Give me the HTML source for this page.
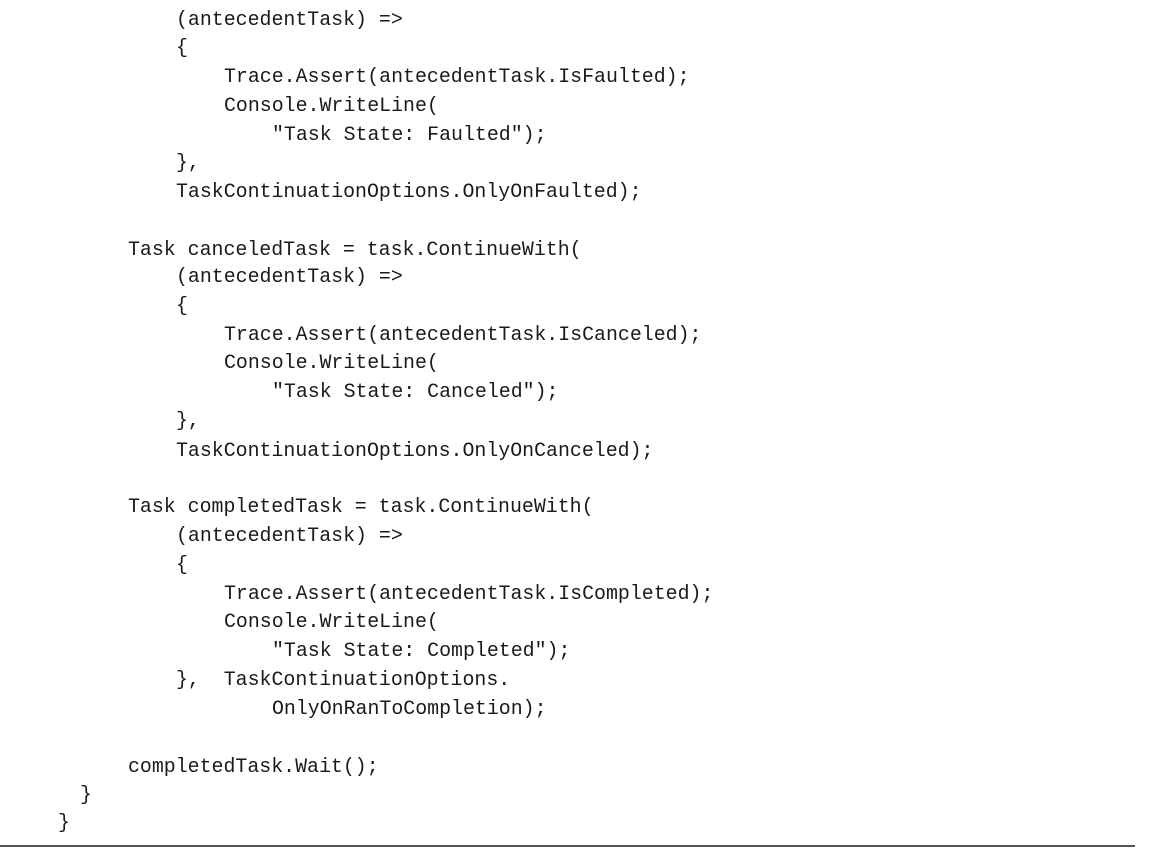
<!DOCTYPE html>
<html><head><meta charset="utf-8"><style>
html,body{margin:0;padding:0;background:#fff;width:1152px;height:853px;overflow:hidden;position:relative}
.l{position:absolute;font-family:"Liberation Mono",monospace;font-size:19.9px;color:#1a1a1a;white-space:pre;line-height:28px;height:28px}
.rule{position:absolute;left:0;top:845px;width:1135px;height:2px;background:#555}
</style></head><body>
<div class="l" style="left:176px;top:6px">(antecedentTask) =&gt;</div>
<div class="l" style="left:176px;top:34px">{</div>
<div class="l" style="left:224px;top:63px">Trace.Assert(antecedentTask.IsFaulted);</div>
<div class="l" style="left:224px;top:92px">Console.WriteLine(</div>
<div class="l" style="left:272px;top:121px">"Task State: Faulted");</div>
<div class="l" style="left:176px;top:149px">},</div>
<div class="l" style="left:176px;top:178px">TaskContinuationOptions.OnlyOnFaulted);</div>
<div class="l" style="left:128px;top:236px">Task canceledTask = task.ContinueWith(</div>
<div class="l" style="left:176px;top:263px">(antecedentTask) =&gt;</div>
<div class="l" style="left:176px;top:292px">{</div>
<div class="l" style="left:224px;top:321px">Trace.Assert(antecedentTask.IsCanceled);</div>
<div class="l" style="left:224px;top:349px">Console.WriteLine(</div>
<div class="l" style="left:272px;top:378px">"Task State: Canceled");</div>
<div class="l" style="left:176px;top:407px">},</div>
<div class="l" style="left:176px;top:437px">TaskContinuationOptions.OnlyOnCanceled);</div>
<div class="l" style="left:128px;top:493px">Task completedTask = task.ContinueWith(</div>
<div class="l" style="left:176px;top:522px">(antecedentTask) =&gt;</div>
<div class="l" style="left:176px;top:551px">{</div>
<div class="l" style="left:224px;top:580px">Trace.Assert(antecedentTask.IsCompleted);</div>
<div class="l" style="left:224px;top:608px">Console.WriteLine(</div>
<div class="l" style="left:272px;top:637px">"Task State: Completed");</div>
<div class="l" style="left:176px;top:666px">},  TaskContinuationOptions.</div>
<div class="l" style="left:272px;top:695px">OnlyOnRanToCompletion);</div>
<div class="l" style="left:128px;top:753px">completedTask.Wait();</div>
<div class="l" style="left:80px;top:781px">}</div>
<div class="l" style="left:58px;top:809px">}</div>
<div class="rule"></div>
</body></html>
